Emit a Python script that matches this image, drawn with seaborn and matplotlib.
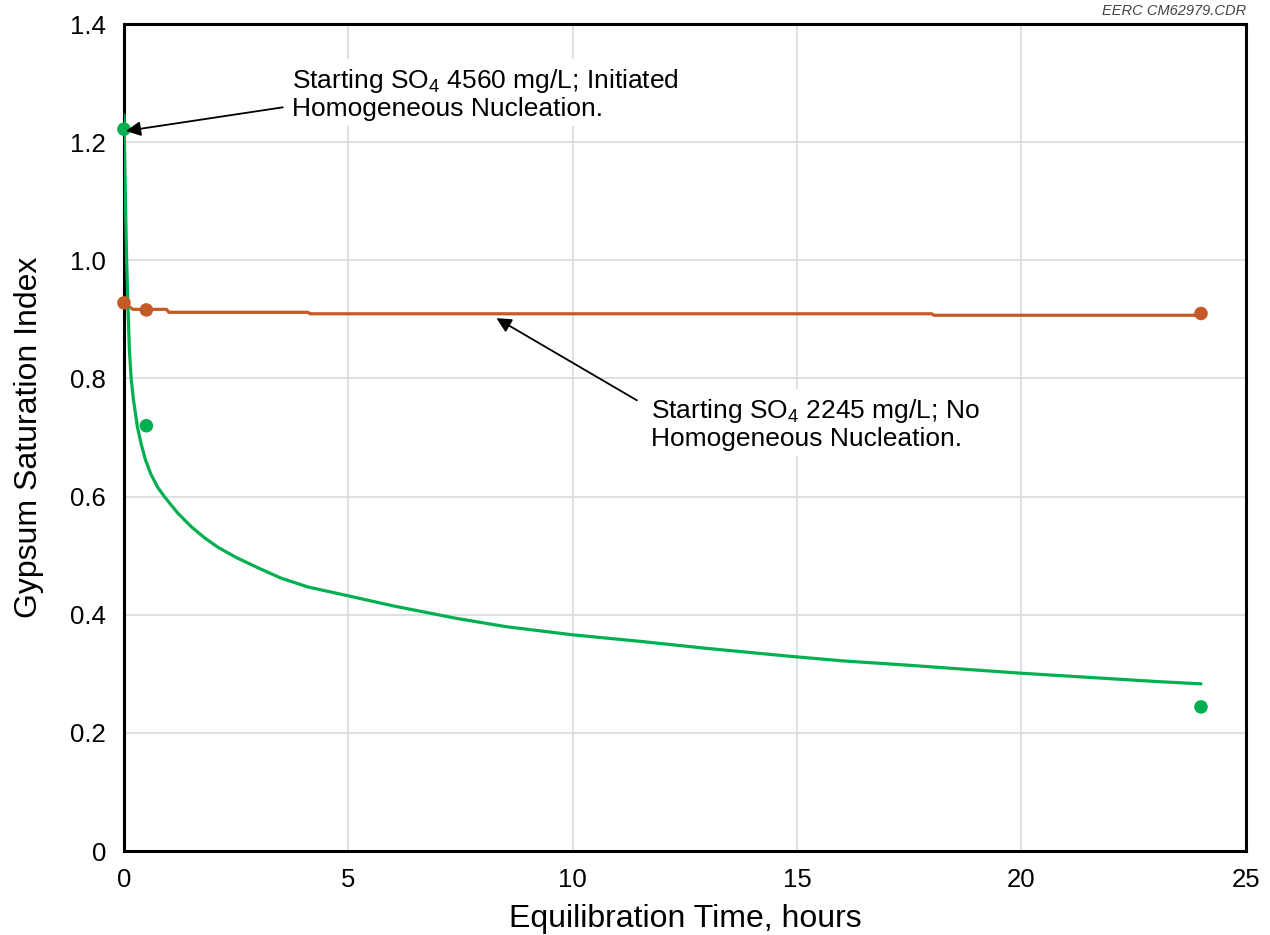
import matplotlib
matplotlib.use("Agg")
import matplotlib.pyplot as plt
import seaborn as sns
import pandas as pd

# Modelled saturation index curves (hours, index)
green_curve_t = [0.0, 0.02, 0.04, 0.06, 0.09, 0.12, 0.16, 0.21, 0.30, 0.38, 0.48, 0.60, 0.75, 0.90,
                 1.2, 1.5, 1.8, 2.1, 2.5, 3.0, 3.5, 4.1, 5.0, 6.0, 7.4, 8.5, 10.0, 11.5, 13.0,
                 14.8, 16.0, 17.4, 18.5, 20.0, 21.5, 23.0, 24.0]
green_curve_si = [1.246, 1.16, 1.07, 1.00, 0.92, 0.85, 0.80, 0.765, 0.718, 0.690, 0.662, 0.638, 0.616, 0.600,
                  0.572, 0.549, 0.530, 0.514, 0.497, 0.479, 0.462, 0.447, 0.432, 0.415, 0.394, 0.380,
                  0.366, 0.355, 0.343, 0.330, 0.322, 0.315, 0.309, 0.301, 0.294, 0.287, 0.283]

orange_curve_t = [0.0, 0.2, 0.95, 1.0, 4.1, 4.15, 18.0, 18.05, 24.0]
orange_curve_si = [0.928, 0.917, 0.917, 0.912, 0.912, 0.9095, 0.9095, 0.907, 0.907]

# Measured samples
green_obs_t = [0.0, 0.5, 24.0]
green_obs_si = [1.222, 0.720, 0.244]
orange_obs_t = [0.0, 0.5, 24.0]
orange_obs_si = [0.928, 0.916, 0.910]

x_ticks = [0, 5, 10, 15, 20, 25]
y_ticks = [0, 0.2, 0.4, 0.6, 0.8, 1.0, 1.2, 1.4]
y_tick_labels = ["0", "0.2", "0.4", "0.6", "0.8", "1.0", "1.2", "1.4"]

GREEN = "#00B050"
ORANGE = "#C55A27"

sns.set_theme(style="white")
plt.rcParams["font.family"] = ["Liberation Sans", "DejaVu Sans"]
plt.rcParams["mathtext.fontset"] = "custom"
plt.rcParams["mathtext.rm"] = "Liberation Sans"
plt.rcParams["mathtext.it"] = "Liberation Sans:italic"
plt.rcParams["text.color"] = "black"
plt.rcParams["axes.labelcolor"] = "black"

fig = plt.figure(figsize=(12.7, 9.35), dpi=100)
fig.patch.set_facecolor("white")
ax = fig.add_axes([0.0976, 0.0898, 0.8834, 0.8845])

green_curve = pd.DataFrame({"t": green_curve_t, "si": green_curve_si})
orange_curve = pd.DataFrame({"t": orange_curve_t, "si": orange_curve_si})

sns.lineplot(data=orange_curve, x="t", y="si", ax=ax, color=ORANGE, linewidth=2.3,
             estimator=None, sort=False, zorder=3)
sns.lineplot(data=green_curve, x="t", y="si", ax=ax, color=GREEN, linewidth=2.3,
             estimator=None, sort=False, zorder=4)

sns.scatterplot(x=orange_obs_t, y=orange_obs_si, ax=ax, color=ORANGE, s=95,
                edgecolor="none", zorder=5, clip_on=False)
sns.scatterplot(x=green_obs_t, y=green_obs_si, ax=ax, color=GREEN, s=95,
                edgecolor="none", zorder=6, clip_on=False)

ax.set_xlim(0, 25)
ax.set_ylim(0, 1.4)
ax.set_xticks(x_ticks)
ax.set_yticks(y_ticks)
ax.set_yticklabels(y_tick_labels)
ax.tick_params(axis="y", labelsize=18.5, colors="black", length=0, pad=13)
ax.tick_params(axis="x", labelsize=18.5, colors="black", length=0, pad=12)
ax.grid(True, color="#DADADA", linewidth=1.2)
ax.set_axisbelow(True)
for side in ax.spines.values():
    side.set_color("black")
    side.set_linewidth(2.2)

ax.set_xlabel("Equilibration Time, hours", fontsize=23, labelpad=9)
ax.set_ylabel("Gypsum Saturation Index", fontsize=23, labelpad=19)

box = dict(facecolor="white", edgecolor="none", pad=4)
ax.text(3.74, 1.282, "Starting SO$_4$ 4560 mg/L; Initiated\nHomogeneous Nucleation.",
        fontsize=19, ha="left", va="center", linespacing=1.1, bbox=box, zorder=7)
ax.annotate("", xy=(0.045, 1.219), xytext=(3.54, 1.259), zorder=8,
            arrowprops=dict(arrowstyle="-|>", color="black", lw=1.3,
                            mutation_scale=22, shrinkA=0, shrinkB=0))

ax.text(11.74, 0.723, "Starting SO$_4$ 2245 mg/L; No\nHomogeneous Nucleation.",
        fontsize=19, ha="left", va="center", linespacing=1.1, bbox=box, zorder=7)
ax.annotate("", xy=(8.3, 0.902), xytext=(11.43, 0.763), zorder=8,
            arrowprops=dict(arrowstyle="-|>", color="black", lw=1.3,
                            mutation_scale=22, shrinkA=0, shrinkB=0))

fig.text(0.981, 0.988, "EERC CM62979.CDR", fontsize=10.5, style="italic",
         color="#444444", ha="right", va="center")

fig.savefig("out.png", dpi=100, facecolor="white")
